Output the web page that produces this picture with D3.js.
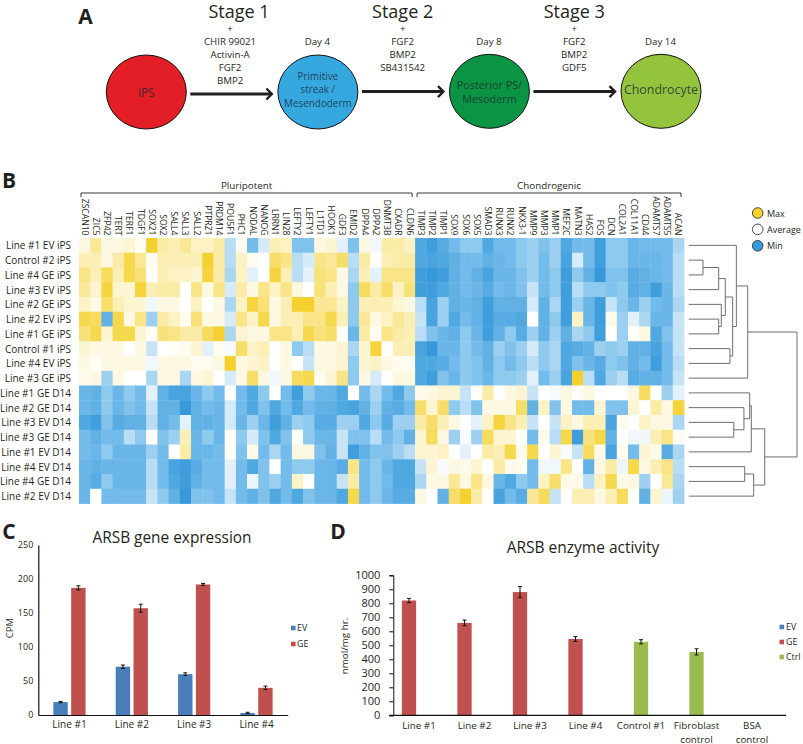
<!DOCTYPE html>
<html><head><meta charset="utf-8">
<script src="https://cdn.jsdelivr.net/npm/d3@7"></script>
<style>
html,body{margin:0;padding:0;background:#fff}
svg{display:block}
text{font-family:"Open Sans",sans-serif;fill:#231f20}
</style></head><body><svg id="c" width="803" height="744"></svg>
<script>
// Panel A
const nodeNames = ["iPS","Primitive streak","Posterior PS","Chondrocyte"];
const nodeFill = ["#e31e26","#35a8e0","#0b9444","#94c33d"];
const nodeLines = [["iPS"],["Primitive","streak /","Mesendoderm"],["Posterior PS/","Mesoderm"],["Chondrocyte"]];
const dayLabels = ["","Day 4","Day 8","Day 14"];
const stageLabels = ["Stage 1","Stage 2","Stage 3"];
const stageReagents = [["+","CHIR 99021","Activin-A","FGF2","BMP2"],["+","FGF2","BMP2","SB431542"],["+","FGF2","BMP2","GDF5"]];
// Panel B
const geneLabels = ["ZSCAN10","ZIC5","ZFP42","TERT","TERF1","TDGF1","SOX21","SOX2","SALL4","SALL3","SALL2","PTPRZ1","PRDM14","POU5F1","PHC1","NODAL","NANOG","LRRN1","LIN28","LEFTY2","LEFTY1","L1TD1","HOOK1","GDF3","EMID2","DPPA4","DPPA2","DNMT3B","CXADR","CLDN6","TIMP3","TIMP2","TIMP1","SOX9","SOX6","SOX5","SMAD3","RUNX3","RUNX2","NKX3-1","MMP9","MMP3","MMP1","MEF2C","MATN3","HAS2","FOS","DCN","COL2A1","COL11A1","CD44","ADAMTS7","ADAMTS5","ACAN"];
const sampleLabels = ["Line #1 EV iPS","Control #2 iPS","Line #4 GE iPS","Line #3 EV iPS","Line #2 GE iPS","Line #2 EV iPS","Line #1 GE iPS","Control #1 iPS","Line #4 EV iPS","Line #3 GE iPS","Line #1 GE D14","Line #2 GE D14","Line #3 EV D14","Line #3 GE D14","Line #1 EV D14","Line #4 EV D14","Line #4 GE D14","Line #2 EV D14"];
const heatValues = [
[1,3.5,1,1,1.5,.5,7,3,2.5,3.5,2,2,3,-2.5,.5,-5,-1.5,2.5,2,-4.5,-4.5,1,1.5,-1,-4.5,1,-.5,3,3,2,-7,-8,-6.5,-5,-4,-4,-7,-5,-5,-4,-3.5,-4.5,-3.5,-7,-5,-5,-8,-4,-4,-5.5,-5,-5,-5,-3],
[2.5,2.5,1,3,6,3.5,.5,2.5,2.5,2.5,2.5,7,3,-2.5,2,.5,0,5,4,-2.5,-1.5,4,3.5,5,-2.5,3,0,2.5,3,3,-7,-7.5,-7,-6,-5,-5,-6,-5.5,-5,-4,-3.5,-5,-3.5,-7.5,-1.5,-5,-8,-4,-4,-5.5,-5.5,-5.5,-5,-2.5],
[4,2.5,5.5,2.5,6,4.5,0,2.5,2,2,1.5,6.5,3,-3,2,-1,0,6.5,2.5,-2.5,-1,4.5,4,1,-3,2.5,-1,4,4,4,-8,-8.5,-8,-6,-5,-6,-7.5,-5.5,-5.5,-4.5,-3.5,-5,-4,-8,-4,-6,-8.5,-4.5,-4.5,-6.5,-6,-5.5,-5,-2.5],
[3.5,1.5,6.5,1.5,1.5,6.5,2.5,3,3,0,4,1,4,-1.5,3,1,4,2,4,1,0,4.5,2.5,1,-4,5.5,3,5,2,4.5,-8,-8,-7,-6,-5,-5.5,-6.5,-5,-5.5,-4.5,-2,-5,-4,-8,-2.5,-4,-4,-4.5,-4,-6.5,-6,-8,-5.5,-2.5],
[2,1,5,2.5,1.5,1.5,-.5,1,1,0,2,0,1,-3,2,6.5,4.5,1,2.5,7,7,3.5,3.5,2,-4,2.5,2.5,2.5,1.5,1,-2.5,-7.5,-3.5,-6,-5.5,-6,-8,-6,-6,-6,-1.5,-6,-3,-8,-3.5,-5.5,-8,-2,-4,-5.5,-3.5,-5,-5.5,-3],
[6,5.5,-6,6,1,4,-3.5,3,2,.5,4.5,1,1,-1.5,4,2,6,1,2.5,2.5,4,4,6,2.5,-4,3.5,1,2,3.5,2.5,-2,-7.5,-3.5,-7,-5,-6,-8,-6.5,-6.5,-7,0,-6,-4,-8,2,-5.5,-8,.7,-3.5,-1,-3,-5.5,-5.5,-2],
[4.5,6,1.5,6,6,1.5,.3,4.5,4,3,3,5.5,7,-3,1.5,1,1,4,4,2.5,6,4.5,5,0,-5.5,3,.5,4,3,2.5,-2.5,-4.5,-5.5,-6,-4,-5.5,-8,-6,-4,-6.5,-3.5,-6,-3.5,-6,-3,-4,-8,0,-3.5,0,1,-7,-4.5,-2],
[1.5,1,1,1,0,1,-2,0,.3,.5,1.5,-1,.5,-.3,5,2,2.5,0,1,-4,-2.5,1,1,1.5,-3,1.5,6.5,0,2.5,2.5,-7.5,-8.5,-5.5,-5.5,-4,-5,-6,-3.5,-4.5,-3.5,-1.5,-4,-3,-7,-6.5,-6,-3.5,-4,-3.5,-6,-6,-7.5,-5,-2],
[1,.3,1,1,1,1,-.5,1,1,1,.5,.5,1,7,1,1.5,2,0,1,0,-2,1,1,1.5,-4,1.5,2,1,.5,.5,-7,-7,-6.5,-5,-4,-4.5,-6,-4,-5,-4,-2.5,-4,-3,-7,-4.5,-5.5,-6.5,-4,-4.5,-6,-5,-8,-5,-2.5],
[.7,1,-3.5,1,0,0,-3,1,1,-3,1,1.5,0,-1.5,1,5,1,-.5,1,5.5,6,.5,1.5,4,-4,1,-1.5,0,1,1,-7,-8,-4.5,-5.5,-4,-4.5,-5.5,-4,-4,-3.5,-1,-5,-3.5,-7.5,7,-2.5,-7,-3.5,-2.5,-6.5,-6,-6,-5,-2],
[-5.5,-6,-4,-5.5,-4,-5,-1,-6,-7.5,-7.5,-5.5,-4,-5,0,-5,-7,-4,0,-5,-8,-4,-5.5,-5.5,-7,0,-5,-3,-5,-7,-4,.8,1,1.5,1.5,-2,.3,3,0,1,1.5,-2,0,-.3,1,.3,1,0,0,0,1,5.5,0,-3.5,-1],
[-5.5,-6,-4,-5.5,-4.5,-5,-2,-6,-6,-8.5,-6,-5,-5.5,-1.5,-5,-7,-4.5,-7,-5,-7,-5,-6,-6,-7,-7.5,-6,-3.5,-6,-6.5,-5,5,1.5,5,-4,-2.5,-4.5,1,1,1,5,-6,2,-4.5,1,-5,-5,1.5,-4.5,-4.5,1.5,0,3,1,6.5],
[-7,-8,-4.5,-6.5,-6,-6,-2.5,-6,-5,-1,-6,-6,-5.5,-1.5,-5.5,-3.5,-5.5,-8,-6,-3.5,-4,-6.5,-6.5,-3.5,-3.5,-7,-4,-6.5,-3.5,-3.5,3,5,2.5,1,0,-1,2,6.5,4,2.5,-2,0,-2,2,1,2.5,2.5,-7.5,.5,0,2,1,1,-3],
[-5,-6,-5,-5,-2.5,-4,0,-4.5,-3.5,2.5,-5.5,-4,-5.5,.3,-4,-1.5,-4.5,-7,-4.5,.2,-4,-5.5,-5.5,-2,-4.5,-4.5,-2.5,-5,-4,-6,1.5,5.5,1,-3.5,-.3,-3.5,5.5,1.5,1.5,0,-5,.7,-2.5,6,-8,4.5,6,-6,0,-.5,-.5,2.5,4,.5],
[-5,-5.5,-4,-5.5,-5.5,-5.5,-3.5,-5,0,3,-5.5,-5.5,-5,.2,-4.5,.7,-5,-3,-5,1,1,-4.5,-6,-2,-8,-6,-4.5,-4.5,-3.5,-2.5,1.5,1.5,2,0,-1,0,3,2.5,6,.8,6,0,1.5,-.3,-2,5.5,.7,-7.5,.5,-5,1.5,.7,-6.5,-3],
[-5.5,-6,-5.5,-5.5,-5.5,-5.5,-2.5,-5,-7.5,-8,-6.5,-5,-5,-1,-5,-7,-4.5,0,-5,-4,-4,-5.5,-5.5,-6.5,4,-5,-4,-5.5,-7,-7,-2,1.5,-.3,1,.7,1.5,0,3,.7,.5,-5,-.5,-.5,4,0,-6,1,3,-.7,6,1,2.5,4,-2.5],
[-5.5,-6.5,-4,-5.5,-5.5,-5.5,-2.5,-5,-7,-8,-6,-5,-5,-1,-5,-.7,-4.5,-3.5,-5,2,0,-5.5,-5.5,-2,3,-5,-4,-5,-7,-7,-3,1,1,3.5,1,4,1,-5.5,-7,-4,-5,2,5,.8,.8,-2.5,2,6,.7,1,-3.5,0,3.5,-3],
[-5.5,0,-5,-5,-5,-5,-2,-4,-6,-8.5,-4.5,-4.5,-5,-2,-5,-6,-4.5,-7,-5,-7,-4.5,-5.5,-5.5,-7,6,-5,-4,-5.5,-6.5,-6.5,1,0,-6,5,7,3,0,-7.5,-5,-6.5,3.5,5.5,-2,.2,2.5,2.5,1,2.5,5.5,0,-6,1.5,-.7,-3.5]
];
const geneGroups = [["Pluripotent",0,29],["Chondrogenic",30,53]];
// dendrogram: [left, right, merge height]; numbers are sample row indexes
const dendroTree = [
 [[0,[[[[1,2,13.2],3,27.7],[4,[5,6,27.7],30.1],33.8],[7,8,38.1],40.6],44],9,54.5],
 [[[10,[11,[12,13,41.6],51],56.3],14,57.8],[[15,16,51.7],17,60],70.2],
 100];
const heatLegend = [["Max",7],["Average",0],["Min",-8.5]];
// Panel C
const cCats = ["Line #1","Line #2","Line #3","Line #4"];
const cEV = [19,71,60,3];
const cGE = [187,157,192,40];
const cEVerr = [1,2.5,2,1];
const cGEerr = [3,6,1.5,2.5];
const cTicks = [0,50,100,150,200,250];
// Panel D
const dCats = ["Line #1","Line #2","Line #3","Line #4","Control #1","Fibroblast|control","BSA|control"];
const dGroup = ["GE","GE","GE","GE","Ctrl","Ctrl",null];
const dValues = [820,660,880,545,525,453,null];
const dErr = [15,20,40,17,15,22,null];
const dTicks = [0,100,200,300,400,500,600,700,800,900,1000];
const seriesColor = {EV:"#4a7ebb",GE:"#c0504d",Ctrl:"#9bbb4f"};

const svg = d3.select("#c");
const txt = (g,x,y,s,size,anchor="middle",extra={})=>{
  const t = g.append("text").attr("x",x).attr("y",y).attr("font-size",size).attr("text-anchor",anchor).attr("dominant-baseline","central").text(s);
  Object.entries(extra).forEach(([k,v])=>t.attr(k,v));
  return t;
};
[["A",85.5,16],["B",9,180],["C",9,531],["D",338,531]].forEach(d=>txt(svg,d[1],d[2],d[0],21,"middle",{"font-weight":700,fill:"#111"}));

// ---- A
const gA = svg.append("g");
const nx = d3.scalePoint().domain(nodeNames).range([146.3,661]);
const nodeRx = 40;
nodeNames.forEach((n,i)=>{
  gA.append("ellipse").attr("cx",nx(n)).attr("cy",i<2?92:91.3).attr("rx",nodeRx).attr("ry",37).attr("fill",nodeFill[i]).attr("stroke","#111").attr("stroke-width",1);
  if(dayLabels[i]) txt(gA,nx(n)-.5,41,dayLabels[i],9.7);
  const L=nodeLines[i], sz=[12,9.9,10.8,12.4][i], lh=[0,13.3,14,0][i];
  const y0=[92,76,84,89][i];
  L.forEach((s,j)=>txt(gA,nx(n),y0+j*lh,s,sz,"middle",{style:"fill:#1b2a33;fill-opacity:.82"}));
});
stageLabels.forEach((s,i)=>{
  const a=nx(nodeNames[i]), b=nx(nodeNames[i+1]), mx=(a+b)/2-1;
  const y=i==0?94:91.6;
  const tip=b-nodeRx-6;
  gA.append("path").attr("d",`M${a+nodeRx+4},${y}H${tip-1}`).attr("stroke","#231f20").attr("stroke-width",3).attr("fill","none");
  gA.append("path").attr("d",`M${tip-5.5},${y-5.5}L${tip},${y}L${tip-5.5},${y+5.5}`).attr("stroke","#231f20").attr("stroke-width",2.4).attr("fill","none");
  txt(gA,i==0?239:mx,11,s,18);
  stageReagents[i].forEach((r,j)=>txt(gA,mx-(i==0?1:0),28.3+j*13,r,9.7));
});

// ---- B
const gB = svg.append("g");
const hx = d3.scaleBand().domain(geneLabels).range([79,684]);
const hy = d3.scaleBand().domain(sampleLabels).range([238,503.5]);
const hc = d3.scaleLinear().domain([-8.5,-5,0,7]).range(["#3799d9","#72bbea","#ffffff","#f4d12f"]).clamp(true);
gB.selectAll("g.r").data(heatValues).join("g").attr("class","r").each(function(row,i){
  d3.select(this).selectAll("rect").data(row).join("rect")
   .attr("x",(d,j)=>hx(geneLabels[j])).attr("y",hy(sampleLabels[i]))
   .attr("width",hx.bandwidth()+.4).attr("height",hy.bandwidth()+.4).attr("fill",d=>hc(d));
});
sampleLabels.forEach(s=>txt(gB,71,hy(s)+hy.bandwidth()/2,s,10,"end"));
geneLabels.forEach(g=>{
  gB.append("text").attr("transform",`translate(${hx(g)+hx.bandwidth()/2},235.5) rotate(90)`)
   .attr("text-anchor","end").attr("dominant-baseline","central").attr("font-size",8.6).text(g);
});
geneGroups.forEach(([name,a,b])=>{
  const x0=hx(geneLabels[a])+2, x1=hx(geneLabels[b])+hx.bandwidth()-3;
  gB.append("path").attr("d",`M${x0},197V193H${x1}V197`).attr("fill","none").attr("stroke","#231f20").attr("stroke-width",.9);
  txt(gB,(x0+x1)/2,185,name,9.8);
});
heatLegend.forEach(([l,v],i)=>{
  const y=213+i*16.4;
  gB.append("circle").attr("cx",757.7).attr("cy",y).attr("r",5.3).attr("fill",hc(v)).attr("stroke","#231f20").attr("stroke-width",.8);
  txt(gB,767,y,l,9,"start");
});
// dendrogram
const dx = d3.scaleLinear().domain([0,100]).range([688.7,797]);
const rowY = i=>hy(sampleLabels[i])+hy.bandwidth()/2;
const gD = gB.append("g").attr("fill","none").attr("stroke","#6d6e71").attr("stroke-width",1);
function walk(n){
  if(typeof n==="number") return {y:rowY(n),h:0};
  const a=walk(n[0]), b=walk(n[1]), x=dx(n[2]);
  gD.append("path").attr("d",`M${dx(a.h)},${a.y}H${x}V${b.y}H${dx(b.h)}`);
  return {y:(a.y+b.y)/2,h:n[2]};
}
walk(dendroTree);

// ---- C
const gC = svg.append("g");
const cx0 = d3.scaleBand().domain(cCats).range([38.3,287.7]);
const cy = d3.scaleLinear().domain([0,250]).range([715,545]);
const barW=14.4, sep=17.8;
const drawBars=(g,xs,ys,vals,errs,col,w)=>{
  vals.forEach((v,i)=>{
    if(v==null) return;
    const c=xs[i];
    g.append("rect").attr("x",c-w/2).attr("y",ys(v)).attr("width",w).attr("height",ys(0)-ys(v)).attr("fill",Array.isArray(col)?col[i]:col);
    const t=ys(v+errs[i]), b=ys(v-errs[i]);
    g.append("path").attr("d",`M${c},${t}V${b}M${c-2},${t}H${c+2}M${c-2},${b}H${c+2}`).attr("stroke","#111").attr("stroke-width",1).attr("fill","none");
  });
};
const cm=cCats.map(c=>cx0(c)+cx0.bandwidth()/2);
drawBars(gC,cm.map(x=>x-sep/2),cy,cEV,cEVerr,seriesColor.EV,barW);
drawBars(gC,cm.map(x=>x+sep/2),cy,cGE,cGEerr,seriesColor.GE,barW);
const axC=gC.append("g").attr("transform","translate(38.3,0)").call(d3.axisLeft(cy).tickValues(cTicks).tickSize(0).tickPadding(5));
axC.selectAll("text").attr("font-size",9);
axC.select(".domain").attr("stroke","#111").attr("stroke-width",1.2);
const axC2=gC.append("g").attr("transform","translate(0,715)").call(d3.axisBottom(cx0).tickSize(0).tickPadding(6));
axC2.selectAll("text").attr("font-size",10);
axC2.select(".domain").attr("stroke","#111").attr("stroke-width",1.2);
txt(gC,172,537.5,"ARSB gene expression",15.4);
gC.append("text").attr("transform","translate(9,628) rotate(-90)").attr("text-anchor","middle").attr("dominant-baseline","central").attr("font-size",9.5).text("CPM");
["EV","GE"].forEach((s,i)=>{const y=628+i*16;
 gC.append("rect").attr("x",291).attr("y",y-2.3).attr("width",4.6).attr("height",4.6).attr("fill",seriesColor[s]);
 txt(gC,297,y,s,8.8,"start");});

// ---- D
const gE = svg.append("g");
const ex0 = d3.scaleBand().domain(dCats).range([391.25,779.75]);
const ey = d3.scaleLinear().domain([0,1000]).range([715.3,575.3]);
const em = dCats.map(c=>ex0(c)+ex0.bandwidth()/2);
drawBars(gE,em.map((x,i)=>dGroup[i]==="GE"?x-10:x),ey,dValues,dErr,dGroup.map(g=>seriesColor[g]),14.3);
const axE=gE.append("g").attr("transform","translate(393.3,0)").call(d3.axisLeft(ey).tickValues(dTicks).tickFormat(d3.format("d")).tickSize(4).tickPadding(9));
axE.selectAll("text").attr("font-size",11);
axE.selectAll("line,.domain").attr("stroke","#111").attr("stroke-width",1);
gE.append("path").attr("d","M389.3,715.3H786").attr("stroke","#111").attr("stroke-width",1.2);
dCats.forEach((c,i)=>c.split("|").forEach((s,j)=>txt(gE,em[i],725+j*14,s,9.8)));
txt(gE,583,547,"ARSB enzyme activity",15.5);
gE.append("text").attr("transform","translate(344,646) rotate(-90)").attr("text-anchor","middle").attr("dominant-baseline","central").attr("font-size",9.8).text("nmol/mg hr.");
["EV","GE","Ctrl"].forEach((s,i)=>{const y=627+i*15;
 gE.append("rect").attr("x",779.5).attr("y",y-2.3).attr("width",4.6).attr("height",4.6).attr("fill",seriesColor[s]);
 txt(gE,786,y,s,8.8,"start");});
</script></body></html>
